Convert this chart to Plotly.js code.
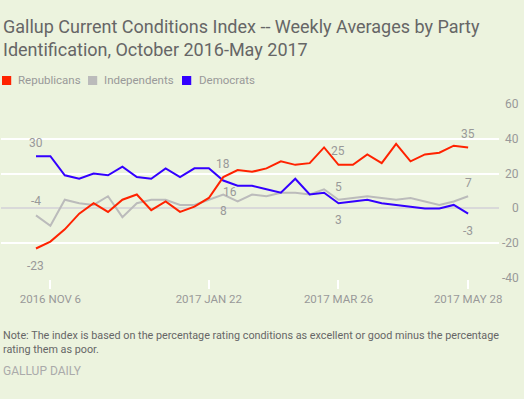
<!DOCTYPE html>
<html>
<head>
<meta charset="utf-8">
<script src="https://cdn.plot.ly/plotly-3.0.1.min.js"></script>
<style>
  html, body { margin: 0; padding: 0; background: #ecf3de; }
  #chart { width: 524px; height: 399px; }
</style>
</head>
<body>
<div id="chart"></div>
<script>
// ---- data ----
const weeks = [
  '2016-10-30','2016-11-06','2016-11-13','2016-11-20','2016-11-27','2016-12-04','2016-12-11',
  '2016-12-18','2016-12-25','2017-01-01','2017-01-08','2017-01-15','2017-01-22','2017-01-29',
  '2017-02-05','2017-02-12','2017-02-19','2017-02-26','2017-03-05','2017-03-12','2017-03-19',
  '2017-03-26','2017-04-02','2017-04-09','2017-04-16','2017-04-23','2017-04-30','2017-05-07',
  '2017-05-14','2017-05-21','2017-05-28'
];
const republicans = [-23,-19,-12,-3,3,-2,5,8,-1,4,-2,1,6,18,22,21,23,27,25,26,35,25,25,31,26,37,27,31,32,36,35];
const independents = [-4,-10,5,3,2,7,-5,3,5,5,2,2,5,8,4,8,7,9,9,8,11,5,6,7,6,5,6,4,2,4,7];
const democrats = [30,30,19,17,20,19,24,18,17,23,18,23,23,16,13,13,11,9,17,8,9,3,4,5,3,2,1,0,0,2,-3];
const seriesNames = ['Republicans','Independents','Democrats'];
const xTickVals = ['2016-11-06','2017-01-22','2017-03-26','2017-05-28'];
const xTickText = ['2016 NOV 6','2017 JAN 22','2017 MAR 26','2017 MAY 28'];
const yTickVals = [60,40,20,0,-20,-40];
const labelIdx = [0,13,21,30];
const titleText = 'Gallup Current Conditions Index -- Weekly Averages by Party<br>Identification, October 2016-May 2017';
const noteText = 'Note: The index is based on the percentage rating conditions as excellent or good minus the percentage<br>rating them as poor.';
const sourceText = 'GALLUP DAILY';

// ---- style ----
const colors = {Republicans:'#ff2200', Independents:'#bbbbbb', Democrats:'#3300ff'};
const values = {Republicans:republicans, Independents:independents, Democrats:democrats};
const FONT = 'Roboto, "Liberation Sans", Arial, sans-serif';

const traces = ['Independents','Democrats','Republicans'].map(n => ({
  type:'scatter', mode:'lines', name:n, x:weeks, y:values[n],
  line:{color:colors[n], width:2}, hoverinfo:'skip'
}));

// label placement per series per labelled week: [xshift, yshift]
const labelShift = {
  Republicans: [[0,-17],[0,13],[0,14],[0,13]],
  Independents: [[0,14],[0,-17],[0,13],[0,13]],
  Democrats: [[0,13],[7,-11],[0,-17],[0,-17]]
};

const annotations = [];
seriesNames.forEach(n => {
  labelIdx.forEach((k, j) => {
    annotations.push({
      x: weeks[k], y: values[n][k], xref:'x', yref:'y', showarrow:false,
      text: String(values[n][k]), xshift: labelShift[n][j][0], yshift: labelShift[n][j][1],
      font:{family:FONT, size:12, color:'#999999'}
    });
  });
});
// y tick labels, right aligned
yTickVals.forEach(v => {
  annotations.push({
    x:1, xref:'paper', y:v, yref:'y', xanchor:'right', xshift:22, showarrow:false,
    text:String(v), font:{family:FONT, size:12, color:'#999999'}
  });
});
// legend
const legendX = [0.002, 0.1747, 0.3635];
const legendTextX = [0.0301, 0.2028, 0.3936];
const shapes = [];
seriesNames.forEach((n, i) => {
  shapes.push({type:'rect', xref:'paper', yref:'paper', x0:legendX[i], x1:legendX[i]+0.0185,
    y0:1.1023, y1:1.1534, fillcolor:colors[n], line:{width:0}});
  annotations.push({x:legendTextX[i], y:1.128, xref:'paper', yref:'paper', xanchor:'left',
    yanchor:'middle', showarrow:false, text:n, font:{family:FONT, size:11.5, color:'#999999'}});
});
// title
annotations.push({x:0, y:1.505, xref:'paper', yref:'paper', xanchor:'left', yanchor:'top',
  align:'left', showarrow:false, text:titleText,
  font:{family:FONT, size:18, color:'#666666'}});
// note and source
annotations.push({x:0, y:-0.27, xref:'paper', yref:'paper', xanchor:'left', yanchor:'top',
  align:'left', showarrow:false, text:noteText,
  font:{family:FONT, size:10.8, color:'#666666'}});
annotations.push({x:0, y:-0.47, xref:'paper', yref:'paper', xanchor:'left', yanchor:'top',
  showarrow:false, text:sourceText, font:{family:FONT, size:12, color:'#aaaaaa'}});

const layout = {
  width:524, height:399,
  paper_bgcolor:'#ecf3de', plot_bgcolor:'#ecf3de',
  margin:{l:1, r:25, t:103, b:120, pad:0},
  showlegend:false,
  xaxis:{
    type:'date', range:['2016-10-13','2017-06-12'],
    tickvals:xTickVals, ticktext:xTickText,
    showgrid:false, zeroline:false, showline:false,
    ticks:'outside', ticklen:9, tickwidth:2, tickcolor:'#ffffff',
    tickfont:{family:FONT, size:11.5, color:'#999999'}
  },
  yaxis:{
    range:[-40.5, 60.5], tickvals:yTickVals, showticklabels:false,
    showgrid:true, gridcolor:'#ffffff', gridwidth:2,
    zeroline:true, zerolinecolor:'#d9d9d9', zerolinewidth:2, showline:false
  },
  shapes:shapes,
  annotations:annotations
};

Plotly.newPlot('chart', traces, layout, {displayModeBar:false, staticPlot:true});
</script>
</body>
</html>
